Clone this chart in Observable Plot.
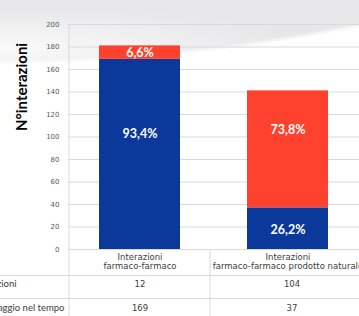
<!DOCTYPE html>
<html><head><meta charset="utf-8">
<script src="https://cdn.jsdelivr.net/npm/d3@7"></script>
<script src="https://cdn.jsdelivr.net/npm/@observablehq/plot@0.6"></script>
<style>
html,body{margin:0;padding:0;width:359px;height:316px;overflow:hidden;background:#fff;}
#chart{position:relative;width:359px;height:316px;overflow:hidden;
 background:
  radial-gradient(ellipse 420px 60px at 10px 48px, rgba(255,255,255,0.75) 0%, rgba(255,255,255,0) 70%),
  radial-gradient(ellipse 860px 365px at -20px -300px, #e7e7e9 0%, #e7e7e9 98.6%, #ffffff 100%);}
#chart svg{background:transparent;overflow:hidden;}
</style></head><body><div id="chart"></div>
<script>
// categories (x axis / table columns)
const categories = ["Interazioni\nfarmaco-farmaco", "Interazioni\nfarmaco-farmaco prodotto naturale"];
// series names (table row headers)
const seriesNames = ["Interazioni", "Monitoraggio nel tempo"];
// series values
const interazioni = [12, 104];      // red, top segment
const monitoraggio = [169, 37];     // blue, bottom segment
// y tick labels
const yTicks = [0, 20, 40, 60, 80, 100, 120, 140, 160, 180, 200];
// where the percentage labels sit (in data units, as in the original)
const labelBlu = [103, 17];
const labelRosso = [175, 106];

const BLUE = "#0b389b", RED = "#ff422d";
const fmtPct = v => d3.format(".1f")(v).replace(".", ",") + "%";

const bars = [];
categories.forEach((c, i) => {
  bars.push({cat: c, serie: "Monitoraggio nel tempo", value: monitoraggio[i]});
  bars.push({cat: c, serie: "Interazioni", value: interazioni[i]});
});
const labels = [];
categories.forEach((c, i) => {
  const tot = monitoraggio[i] + interazioni[i];
  labels.push({cat: c, at: labelBlu[i], text: fmtPct(monitoraggio[i] / tot * 100)});
  labels.push({cat: c, at: labelRosso[i], text: fmtPct(interazioni[i] / tot * 100)});
});
const tableRow1 = categories.map((c, i) => ({cat: c, text: String(interazioni[i]), col: i}));
const tableRow2 = categories.map((c, i) => ({cat: c, text: String(monitoraggio[i]), col: i}));

const font = "Lato, 'Open Sans', sans-serif";
const tfont = "'DejaVu Sans', Verdana, sans-serif";
const grid = "#d9d9d9";

const chart = Plot.plot({
  width: 359,
  height: 316,
  marginLeft: 68,
  marginRight: 0,
  marginTop: 24,
  marginBottom: 67,
  style: {fontFamily: font, background: "transparent", overflow: "hidden"},
  x: {domain: categories, range: [65, 362], paddingInner: 0.455, paddingOuter: 0.2275, axis: null},
  y: {domain: [0, 200], axis: null},
  color: {domain: ["Monitoraggio nel tempo", "Interazioni"], range: [BLUE, RED]},
  marks: [
    Plot.gridY(yTicks.filter(t => t > 0), {stroke: grid, strokeOpacity: 1}),
    Plot.ruleY([0], {stroke: grid}),
    // table horizontal lines
    Plot.ruleY([0], {stroke: grid, dy: 26, insetLeft: -68}),
    Plot.ruleY([0], {stroke: grid, dy: 49, insetLeft: -68}),
    // table vertical lines
    Plot.ruleX([categories[0]], {stroke: grid, dx: -71, insetBottom: -67}),
    Plot.ruleX([categories[0]], {stroke: grid, dx: 70, y1: 0, y2: -60}),
    Plot.axisY({ticks: yTicks, tickSize: 0, tickPadding: 9, fontSize: 7, fill: "#595959", label: null, fontFamily: tfont}),
    Plot.axisX({tickSize: 0, tickPadding: 3.5, fontSize: 8.5, fill: "#404040", label: null, lineHeight: 1.08, fontFamily: tfont}),
    Plot.barY(bars, {x: "cat", y: "value", fill: "serie"}),
    Plot.text(labels, {x: "cat", y: "at", text: "text", fill: "white", fontWeight: "bold", fontSize: 12.5, fontFamily: font}),
    // y axis title
    Plot.text(["N°interazioni"], {frameAnchor: "left", dx: -46, dy: -6, rotate: -90, fontSize: 15, fontWeight: "bold", fill: "#000", fontFamily: font}),
    // data table values
    Plot.text(tableRow1.filter(d => d.col === 0), {x: "cat", text: "text", frameAnchor: "bottom", dy: 37.5, fontSize: 8.5, fill: "#404040", fontFamily: tfont}),
    Plot.text(tableRow1.filter(d => d.col === 1), {x: "cat", text: "text", frameAnchor: "bottom", dy: 37.5, dx: 4, fontSize: 8.5, fill: "#404040", fontFamily: tfont}),
    Plot.text(tableRow2.filter(d => d.col === 0), {x: "cat", text: "text", frameAnchor: "bottom", dy: 61.5, fontSize: 8.5, fill: "#404040", fontFamily: tfont}),
    Plot.text(tableRow2.filter(d => d.col === 1), {x: "cat", text: "text", frameAnchor: "bottom", dy: 61.5, dx: 4, fontSize: 8.5, fill: "#404040", fontFamily: tfont}),
    // row headers (clipped by the left edge, as in the original)
    Plot.text([seriesNames[0]], {frameAnchor: "bottom-left", textAnchor: "end", dx: -52, dy: 37.5, fontSize: 9.5, fill: "#404040"}),
    Plot.text([seriesNames[1]], {frameAnchor: "bottom-left", textAnchor: "end", dx: -4, dy: 61.5, fontSize: 9.5, fill: "#404040"})
  ]
});
document.getElementById("chart").appendChild(chart);
</script>
</body></html>
